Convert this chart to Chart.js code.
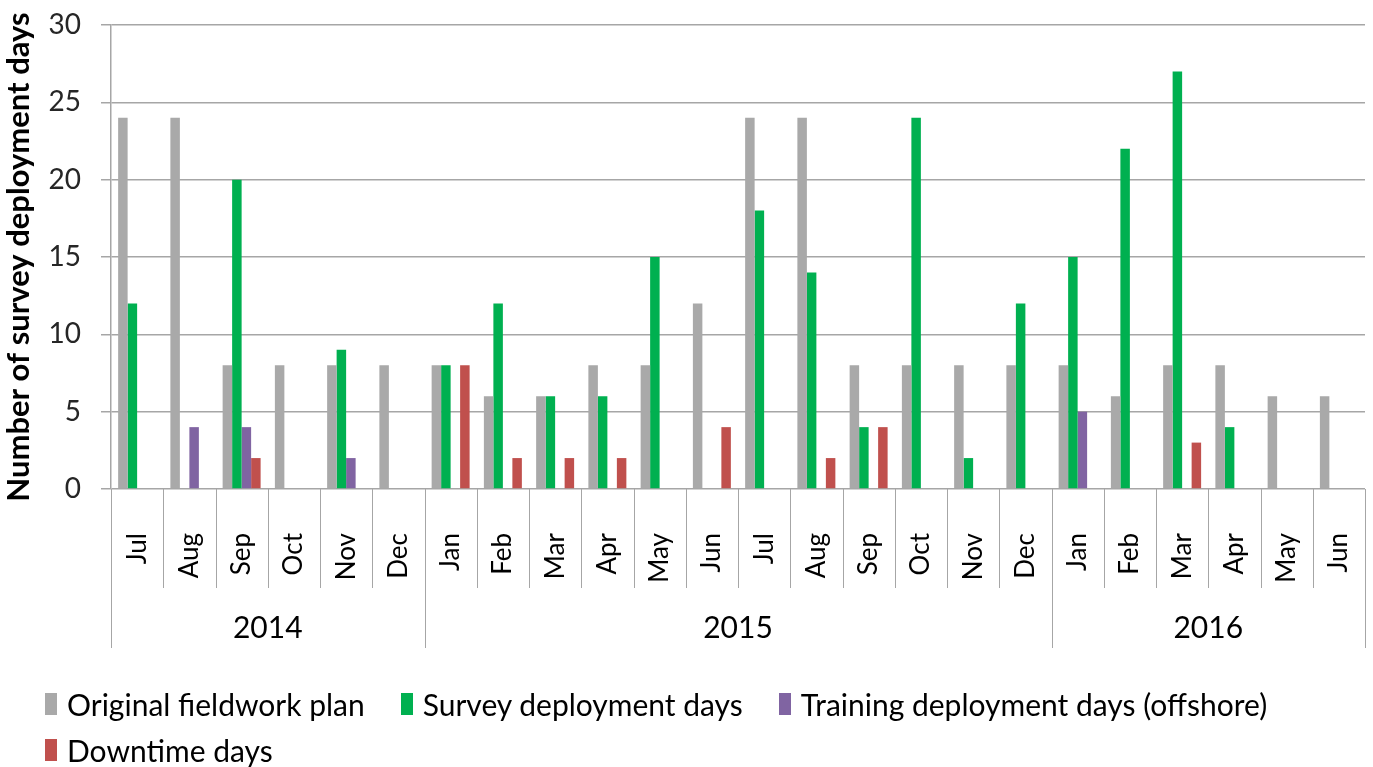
<!DOCTYPE html>
<html>
<head>
<meta charset="utf-8">
<script src="https://cdn.jsdelivr.net/npm/chart.js@4.4.0/dist/chart.umd.min.js"></script>
<style>
  html, body { margin: 0; padding: 0; background: #fff; }
  #wrap { position: relative; width: 1373px; height: 767px; }
  #legend { position: absolute; left: 45px; top: 681px; width: 1320px; display: flex; flex-wrap: wrap;
            font-family: Lato, sans-serif; font-size: 30px; color: #000; }
  .item { display: flex; align-items: center; height: 46px; margin-right: 36px; }
  .box { width: 12px; height: 22px; margin-right: 10px; }
</style>
</head>
<body>
<div id="wrap">
  <canvas id="deployChart" width="1373" height="767"></canvas>
  <div id="legend"></div>
</div>
<script>
// Categories
const months = ['Jul', 'Aug', 'Sep', 'Oct', 'Nov', 'Dec',
  'Jan', 'Feb', 'Mar', 'Apr', 'May', 'Jun', 'Jul', 'Aug', 'Sep', 'Oct', 'Nov', 'Dec',
  'Jan', 'Feb', 'Mar', 'Apr', 'May', 'Jun'];
const yearLabels = ['2014', '2015', '2016'];
const yearSpans = [6, 12, 6]; // number of months under each year

// Series (days per month)
const planDays     = [24, 24, 8, 8, 8, 8,  8, 6, 6, 8, 8, 12, 24, 24, 8, 8, 8, 8,  8, 6, 8, 8, 6, 6];
const surveyDays   = [12, 0, 20, 0, 9, 0,  8, 12, 6, 6, 15, 0, 18, 14, 4, 24, 2, 12,  15, 22, 27, 4, 0, 0];
const trainingDays = [0, 4, 4, 0, 2, 0,  0, 0, 0, 0, 0, 0, 0, 0, 0, 0, 0, 0,  5, 0, 0, 0, 0, 0];
const downtimeDays = [0, 0, 2, 0, 0, 0,  8, 2, 2, 2, 0, 4, 0, 2, 4, 0, 0, 0,  0, 0, 3, 0, 0, 0];

// Y axis ticks
const yMin = 0, yMax = 30, yStep = 5;

const gridColor = '#a6a6a6';

// Draws the month boxes and the year row under the x axis
const categoryBoxes = {
  id: 'categoryBoxes',
  afterDraw(chart) {
    const x = chart.scales.x;
    const ctx = chart.ctx;
    const step = x.getPixelForValue(1) - x.getPixelForValue(0);
    const top = x.top;
    const yearEdges = [0];
    let n = 0;
    yearSpans.forEach(s => { n += s; yearEdges.push(n); });

    ctx.save();
    ctx.strokeStyle = gridColor;
    ctx.lineWidth = 1;
    for (let i = 0; i <= months.length; i++) {
      const px = Math.round(x.getPixelForValue(i) - step / 2) + 0.5;
      const bottom = yearEdges.includes(i) ? top + 159 : top + 99;
      ctx.beginPath();
      ctx.moveTo(px, top);
      ctx.lineTo(px, bottom);
      ctx.stroke();
    }

    ctx.font = '30px Lato';
    ctx.fillStyle = '#000';
    ctx.textAlign = 'center';
    ctx.textBaseline = 'middle';
    yearLabels.forEach((label, k) => {
      const a = x.getPixelForValue(yearEdges[k]) - step / 2;
      const b = x.getPixelForValue(yearEdges[k + 1]) - step / 2;
      ctx.fillText(label, (a + b) / 2, top + 139);
    });
    ctx.restore();
  }
};

const ctx = document.getElementById('deployChart').getContext('2d');
const deployChart = new Chart(ctx, {
  type: 'bar',
  data: {
    labels: months,
    datasets: [
      { label: 'Original fieldwork plan', data: planDays, backgroundColor: '#a9a9a9' },
      { label: 'Survey deployment days', data: surveyDays, backgroundColor: '#00b050' },
      { label: 'Training deployment days (offshore)', data: trainingDays, backgroundColor: '#8064a2' },
      { label: 'Downtime days', data: downtimeDays, backgroundColor: '#c0504d' },
    ],
  },
  options: {
    responsive: false,
    animation: false,
    devicePixelRatio: 1,
    layout: { padding: { top: 25, right: 8, bottom: 119, left: 0 } },
    datasets: { bar: { categoryPercentage: 0.727, barPercentage: 1.0, borderWidth: 0 } },
    scales: {
      x: {
        grid: { display: false, drawTicks: false },
        border: { display: false },
        ticks: {
          autoSkip: false,
          minRotation: 90,
          maxRotation: 90,
          padding: 44,
          color: '#000',
          font: { family: 'Lato', size: 26 },
        },
        afterFit(scale) {
          scale.height = 159;
          scale.paddingLeft = 0;
          scale.paddingRight = 0;
        },
      },
      y: {
        min: yMin,
        max: yMax,
        ticks: {
          stepSize: yStep,
          padding: 20,
          color: '#262626',
          font: { family: 'Lato', size: 28 },
        },
        grid: { color: gridColor, lineWidth: 1.5, tickLength: 10 },
        border: { color: gridColor, width: 1.5 },
        title: {
          display: true,
          text: 'Number of survey deployment days',
          color: '#000',
          font: { family: 'Lato', size: 31, weight: 'bold' },
          padding: { top: 0, bottom: 0 },
        },
        afterFit(scale) {
          scale.width = 111;
          scale.paddingTop = 0;
          scale.paddingBottom = 0;
        },
      },
    },
    plugins: {
      legend: { display: false },
      tooltip: { enabled: false },
    },
  },
  plugins: [categoryBoxes],
});

// HTML legend built from the datasets
const legendEl = document.getElementById('legend');
deployChart.data.datasets.forEach(ds => {
  const item = document.createElement('div');
  item.className = 'item';
  const box = document.createElement('span');
  box.className = 'box';
  box.style.background = ds.backgroundColor;
  const text = document.createElement('span');
  text.textContent = ds.label;
  item.appendChild(box);
  item.appendChild(text);
  legendEl.appendChild(item);
});
</script>
</body>
</html>
